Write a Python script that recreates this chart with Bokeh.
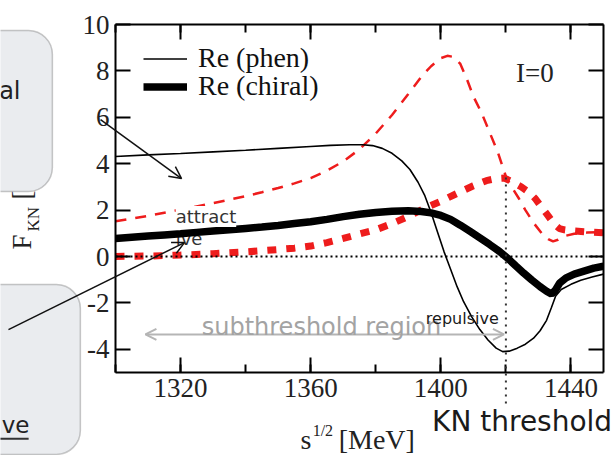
import math
from bokeh.plotting import figure
from bokeh.layouts import column
from bokeh.models import (Range1d, LinearAxis, SingleIntervalTicker, Label, Arrow, OpenHead,
                          BoxAnnotation, Span, Legend, LegendItem, NumeralTickFormatter)
from bokeh.embed import file_html
from bokeh.resources import INLINE

# ---------------- data ----------------
phen_x = [1300, 1310, 1320, 1330, 1340, 1350, 1360, 1366, 1372, 1376, 1379, 1382, 1385, 1388,
          1390.5, 1393, 1395, 1397, 1399, 1401, 1403, 1405, 1407, 1409.5, 1412, 1414.5, 1417,
          1419, 1421, 1423.5, 1426, 1428.5, 1430.5, 1432.5, 1434, 1435.3, 1437, 1440, 1443,
          1446.5, 1450]
phen_re = [4.31, 4.38, 4.44, 4.51, 4.58, 4.66, 4.74, 4.79, 4.82, 4.82, 4.78, 4.66, 4.45, 4.12,
           3.75, 3.2, 2.65, 1.9, 1.05, 0.2, -0.55, -1.3, -1.95, -2.6, -3.15, -3.6, -3.95,
           -4.1, -4.08, -3.95, -3.78, -3.52, -3.2, -2.75, -2.2, -1.7, -1.42, -1.2, -1.02,
           -0.88, -0.76]

chiral_x = [1300, 1305, 1310, 1315, 1320, 1325, 1330, 1335, 1340, 1345, 1350, 1355, 1360, 1365,
            1370, 1375, 1380, 1385, 1390, 1394, 1397, 1400, 1403, 1406, 1409, 1412, 1415, 1418,
            1420.5, 1423, 1425.5, 1428, 1430.5, 1432.5, 1434, 1435.2, 1436.5, 1438.5, 1441,
            1444, 1447, 1450]
chiral_re = [0.78, 0.83, 0.88, 0.93, 0.98, 1.04, 1.1, 1.15, 1.21, 1.27, 1.34, 1.42, 1.5, 1.6,
             1.72, 1.82, 1.9, 1.95, 1.97, 1.94, 1.88, 1.77, 1.6, 1.35, 1.08, 0.8, 0.52, 0.22,
             -0.07, -0.4, -0.72, -1.02, -1.3, -1.5, -1.62, -1.45, -1.15, -0.92, -0.76, -0.63,
             -0.5, -0.42]

phen_im_x = [1300, 1310, 1320, 1330, 1340, 1345, 1350, 1355, 1360, 1365, 1370, 1375, 1380, 1385,
             1390, 1394, 1397, 1400, 1402, 1404, 1406, 1408, 1410, 1412.5, 1415, 1417.5, 1420,
             1422, 1424, 1426, 1428.5, 1431, 1433, 1434.5, 1436, 1438, 1441, 1445, 1450]
phen_im = [1.52, 1.75, 2.02, 2.3, 2.6, 2.77, 2.95, 3.15, 3.38, 3.7, 4.1, 4.62, 5.3, 6.1, 7.0,
           7.75, 8.2, 8.55, 8.65, 8.6, 8.3, 7.65, 6.9, 6.2, 5.35, 4.5, 3.45, 2.95, 2.5, 2.0,
           1.45, 1.0, 0.75, 0.65, 0.72, 0.88, 0.98, 1.03, 1.05]

chiral_im_x = [1300, 1310, 1320, 1330, 1340, 1350, 1355, 1360, 1365, 1370, 1375, 1380, 1385,
               1390, 1395, 1400, 1405, 1410, 1414, 1417, 1419.5, 1422, 1424.5, 1427, 1429, 1431,
               1433, 1434.8, 1436.5, 1438, 1441, 1445, 1450]
chiral_im = [0.0, 0.02, 0.06, 0.12, 0.2, 0.3, 0.36, 0.45, 0.6, 0.78, 0.97, 1.15, 1.42, 1.72,
             2.08, 2.38, 2.72, 3.05, 3.27, 3.36, 3.38, 3.22, 3.02, 2.78, 2.5, 2.12, 1.75, 1.4,
             1.2, 1.15, 1.1, 1.06, 1.02]

x_ticks_major = 40
y_ticks_major = 2
threshold_x = 1420

SERIF = "Liberation Serif"
SANS = "DejaVu Sans"
RED = "#ee1c1c"

W, H = 615, 455
BL, BR, BT, BB = 115, 12, 24, 83
XMIN, XMAX, YMIN, YMAX = 1300, 1450, -5, 10

p = figure(width=W, height=H, x_range=Range1d(XMIN, XMAX), y_range=Range1d(YMIN, YMAX),
           output_backend="svg", toolbar_location=None,
           x_axis_location=None, y_axis_location=None,
           min_border_left=BL, min_border_right=BR, min_border_top=BT, min_border_bottom=BB)
p.frame_align = False
p.grid.visible = False
p.outline_line_color = None
p.background_fill_color = "white"
p.border_fill_color = "white"


def make_axis(kind, labels):
    if kind == "x":
        tk = SingleIntervalTicker(interval=x_ticks_major, num_minor_ticks=2)
    else:
        tk = SingleIntervalTicker(interval=y_ticks_major, num_minor_ticks=0)
    ax = LinearAxis(ticker=tk, formatter=NumeralTickFormatter(format="0"))
    ax.axis_line_width = 2
    ax.axis_line_color = "black"
    ax.major_tick_in = 15
    ax.major_tick_out = 0
    ax.minor_tick_in = 8
    ax.minor_tick_out = 0
    ax.major_tick_line_width = 2
    ax.minor_tick_line_width = 2
    ax.major_tick_line_color = "black"
    ax.minor_tick_line_color = "black"
    if labels:
        ax.major_label_text_font = SERIF
        ax.major_label_text_font_size = "27px"
        ax.major_label_text_color = "#222222"
        ax.major_label_standoff = 6
    else:
        ax.major_label_text_color = None
        ax.major_label_text_font_size = "1px"
        ax.major_label_standoff = 0
    return ax


p.add_layout(make_axis("x", True), "below")
p.add_layout(make_axis("x", False), "above")
p.add_layout(make_axis("y", True), "left")
p.add_layout(make_axis("y", False), "right")

# zero line
p.add_layout(Span(location=0, dimension="width", line_color="black", line_width=2,
                  line_dash="2 3"))

r_im_phen = p.line(phen_im_x, phen_im, line_color=RED, line_width=2.5, line_dash="11 9")
r_im_chiral = p.line(chiral_im_x, chiral_im, line_color=RED, line_width=7,
                     line_dash="9 10", line_cap="butt")
r_phen = p.line(phen_x, phen_re, line_color="black", line_width=1.6)
r_chiral = p.line(chiral_x, chiral_re, line_color="black", line_width=7.5)

legend_style = dict(glyph_width=44, glyph_height=29, label_height=29, label_standoff=11,
                    spacing=0, padding=0, margin=0, border_line_color=None,
                    background_fill_alpha=0, label_text_font=SERIF,
                    label_text_font_size="28px", label_text_color="#111111")
p.add_layout(Legend(items=[LegendItem(label="Re (phen)", renderers=[r_phen])],
                    location=(28, 298), **legend_style))
p.add_layout(Legend(items=[LegendItem(label="Re (chiral)", renderers=[r_chiral])],
                    location=(28, 270), **legend_style))

p.add_layout(Label(x=1423.1, y=7.89, text="I=0", text_font=SERIF, text_font_size="27px",
                   text_baseline="middle", text_color="#222222"))

# subthreshold double arrow
p.add_layout(Arrow(start=OpenHead(size=11, line_color="#b5b5b5", line_width=2),
                   end=OpenHead(size=11, line_color="#b5b5b5", line_width=2),
                   x_start=1309.2, y_start=-3.36, x_end=1419.4, y_end=-3.36,
                   line_color="#b5b5b5", line_width=2))
p.add_layout(Label(x=1326.5, y=-3.05, text="subthreshold region", text_font=SANS,
                   text_font_size="24px", text_baseline="middle", text_color="#a3a3a3"))
p.add_layout(Label(x=1395.4, y=-2.67, text="repulsive", text_font=SANS,
                   text_font_size="16px", text_baseline="middle", text_color="#1a1a1a"))

p.add_layout(Label(x=1318.5, y=0.78, text="ive", text_font=SANS, level="underlay",
                   text_font_size="18px", text_baseline="middle", text_color="#333333"))
p.add_layout(Label(x=1318.5, y=1.72, text="attract", text_font=SANS,
                   text_font_size="18px", text_baseline="middle", text_color="#333333",
                   background_fill_color="white", background_fill_alpha=1.0))

# ---------- overlay layer (slide decorations that lie outside the frame) ----------
kx = (W - BL - BR) / (XMAX - XMIN)
ky = (H - BT - BB) / (YMAX - YMIN)
d = figure(width=W, height=H,
           x_range=Range1d(XMIN - BL / kx, XMAX + BR / kx),
           y_range=Range1d(YMIN - BB / ky, YMAX + BT / ky),
           output_backend="svg", toolbar_location=None,
           x_axis_location=None, y_axis_location=None,
           min_border=0, min_border_left=0, min_border_right=0,
           min_border_top=0, min_border_bottom=0,
           margin=(-H, 0, 0, 0))
d.frame_align = False
d.grid.visible = False
d.outline_line_color = None
d.background_fill_alpha = 0
d.border_fill_alpha = 0

# threshold dotted line, extending below the axis
d.add_layout(Arrow(end=None, x_start=threshold_x, y_start=3.4, x_end=threshold_x, y_end=-6.55,
                   line_color="#333333", line_width=2, line_dash="2 5"))
d.add_layout(Label(x=1397.3, y=-7.13, text="KN threshold", text_font=SANS, text_font_size="28px",
                   text_baseline="middle", text_color="#1a1a1a"))

# y axis label (partly hidden by slide box)
d.add_layout(Label(x=1271.4, y=0.30, text="F", angle=math.pi / 2, text_font=SERIF,
                   text_font_size="27px", text_baseline="middle", text_color="#222222"))
d.add_layout(Label(x=1274.9, y=1.08, text="KN", angle=math.pi / 2, text_font=SERIF,
                   text_font_size="17px", text_baseline="middle", text_color="#222222"))
d.add_layout(Label(x=1271.4, y=2.46, text="[fm]", angle=math.pi / 2, text_font=SERIF,
                   text_font_size="27px", text_baseline="middle", text_color="#222222"))

# x axis label
d.add_layout(Label(x=1356.9, y=-7.89, text="s", text_font=SERIF, text_font_size="28px",
                   text_baseline="middle", text_color="#222222"))
d.add_layout(Label(x=1360.6, y=-7.5, text="1/2", text_font=SERIF, text_font_size="16px",
                   text_baseline="middle", text_color="#222222"))
d.add_layout(Label(x=1368.6, y=-7.89, text="[MeV]", text_font=SERIF, text_font_size="28px",
                   text_baseline="middle", text_color="#222222"))

# slide boxes
d.add_layout(BoxAnnotation(left=1250, right=1280.6, top=9.74, bottom=2.80, border_radius=24,
                           fill_color="#eaecef", fill_alpha=1, line_color="#4d4d4d",
                           line_width=1.5))
d.add_layout(BoxAnnotation(left=1250, right=1289.2, top=-1.21, bottom=-8.53, border_radius=24,
                           fill_color="#eaecef", fill_alpha=1, line_color="#4d4d4d",
                           line_width=1.5))
d.add_layout(Label(x=1270.8, y=7.13, text="al", text_font=SANS, text_font_size="24px",
                   text_align="right", text_baseline="middle", text_color="#222222"))
d.add_layout(Label(x=1265.0, y=-7.28, text="ve", text_font=SANS, text_font_size="23px",
                   text_align="left", text_baseline="middle", text_color="#222222"))
d.add_layout(Arrow(end=None, x_start=1264.0, y_start=-7.86, x_end=1273.3, y_end=-7.86,
                   line_color="#333333", line_width=2))

# pointer arrows
d.add_layout(Arrow(end=OpenHead(size=12, line_width=1.5, line_color="#111111"),
                   x_start=1295.4, y_start=5.9, x_end=1320.3, y_end=3.36,
                   line_color="#111111", line_width=1.5))
d.add_layout(Arrow(end=OpenHead(size=12, line_width=1.5, line_color="#111111"),
                   x_start=1267.1, y_start=-3.15, x_end=1321.2, y_end=0.6,
                   line_color="#111111", line_width=1.5))

page = column(p, d)
open("out.html", "w").write(file_html(page, INLINE))
